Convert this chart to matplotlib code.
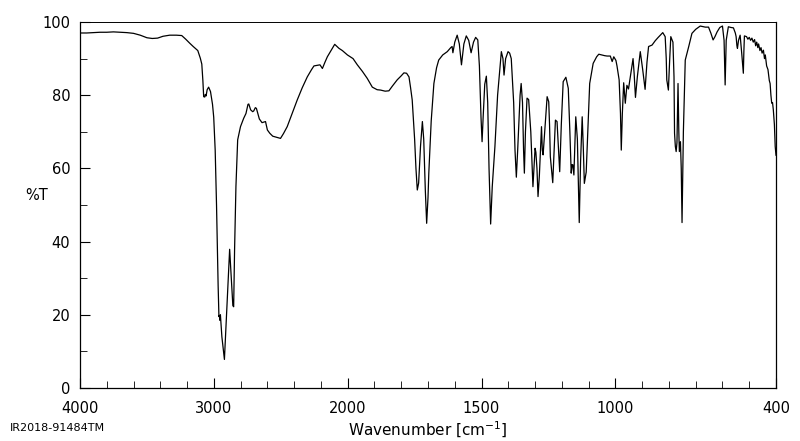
import numpy as np
import matplotlib
matplotlib.use('Agg')
import matplotlib.pyplot as plt


# wavenumber [cm-1] and transmittance [%T]
wavenumber = [
    4000, 3950, 3900, 3850, 3800, 3750, 3700, 3650, 3600, 3550,
    3500, 3460, 3420, 3380, 3330, 3280, 3240, 3210, 3180, 3154,
    3120, 3101, 3090, 3082, 3076, 3068, 3064, 3058, 3050, 3039,
    3025, 3010, 3001, 2990, 2980, 2976, 2968, 2962, 2958, 2955,
    2951, 2940, 2921, 2905, 2890, 2882, 2870, 2858, 2852, 2845,
    2835, 2822, 2801, 2777, 2760, 2745, 2739, 2725, 2710, 2702,
    2690, 2682, 2660, 2640, 2614, 2600, 2582, 2560, 2530, 2502,
    2480, 2452, 2420, 2377, 2340, 2302, 2270, 2252, 2207, 2189,
    2170, 2152, 2120, 2097, 2085, 2065, 2040, 2002, 1980, 1964,
    1945, 1927, 1908, 1890, 1877, 1860, 1846, 1833, 1815, 1800,
    1790, 1780, 1771, 1765, 1759, 1750, 1745, 1740, 1735, 1728,
    1721, 1716, 1710, 1705, 1700, 1697, 1688, 1678, 1668, 1660,
    1645, 1628, 1615, 1610, 1607, 1600, 1591, 1583, 1575, 1566,
    1557, 1548, 1539, 1530, 1522, 1514, 1508, 1502, 1498, 1494,
    1488, 1482, 1477, 1472, 1466, 1460, 1450, 1440, 1426, 1420,
    1416, 1410, 1401, 1395, 1389, 1380, 1375, 1370, 1365, 1356,
    1352, 1347, 1343, 1340, 1336, 1330, 1324, 1316, 1308, 1304,
    1300, 1297, 1293, 1289, 1284, 1276, 1273, 1270, 1262, 1255,
    1249, 1246, 1243, 1234, 1228, 1224, 1218, 1213, 1208, 1202,
    1195, 1185, 1176, 1170, 1165, 1162, 1159, 1155, 1148, 1142,
    1135, 1130, 1124, 1120, 1116, 1109, 1102, 1096, 1083, 1070,
    1062, 1040, 1031, 1019, 1012, 1006, 998, 994, 986, 981,
    978, 974, 969, 963, 957, 951, 942, 934, 930, 925,
    918, 907, 898, 889, 882, 876, 863, 851, 840, 823,
    814, 810, 808, 802, 797, 793, 785, 781, 779, 776,
    773, 770, 766, 763, 761, 757, 754, 751, 746, 739,
    726, 714, 700, 683, 664, 652, 643, 635, 628, 620,
    610, 600, 594, 590, 586, 578, 568, 559, 552, 549,
    546, 544, 540, 534, 531, 528, 524, 522, 520, 518,
    510, 505, 500, 495, 490, 485, 480, 476, 472, 468,
    465, 460, 456, 452, 447, 443, 440, 435, 430, 425,
    422, 419, 416, 413, 410, 406, 403, 400,
]
transmittance = [
    97.0, 97.0, 97.1, 97.2, 97.2, 97.3, 97.2, 97.1, 96.9, 96.4,
    95.7, 95.5, 95.6, 96.1, 96.4, 96.4, 96.3, 95.3, 94.2, 93.3,
    92.2, 90.1, 88.5, 84.0, 79.6, 79.5, 80.2, 79.8, 81.5, 82.2,
    81.0, 77.5, 74.0, 65.0, 50.0, 42.3, 28.0, 19.5, 19.8, 18.5,
    20.0, 14.0, 7.8, 20.0, 32.0, 37.9, 30.0, 22.5, 22.2, 38.0,
    55.0, 67.8, 71.4, 73.7, 75.0, 77.5, 77.6, 76.0, 75.5, 75.7,
    76.6, 76.4, 73.5, 72.5, 72.8, 70.5, 69.6, 68.8, 68.5, 68.2,
    69.5, 71.4, 74.5, 78.7, 82.0, 85.0, 87.0, 88.0, 88.3, 87.3,
    89.0, 90.5, 92.5, 93.9, 93.5, 92.8, 92.2, 91.0, 90.0, 88.3,
    86.5, 84.6, 82.2, 81.5, 81.4, 81.1, 81.2, 82.5, 84.2, 85.3,
    86.1, 86.0, 85.0, 82.0, 78.7, 68.0, 60.0, 54.1, 56.0, 66.0,
    72.8, 68.0, 54.0, 45.0, 52.0, 58.7, 73.0, 83.2, 87.5, 89.6,
    91.0, 91.9, 93.0, 93.3, 91.6, 94.5, 96.4, 94.0, 88.3, 94.0,
    96.2, 95.0, 91.6, 94.5, 95.8, 95.1, 88.0, 74.0, 67.3, 74.0,
    83.0, 85.2, 78.0, 60.0, 44.8, 55.0, 66.0, 80.0, 91.9, 90.0,
    85.5, 90.0, 91.9, 91.5, 90.0, 78.0, 65.0, 57.6, 65.0, 80.0,
    83.2, 78.0, 65.0, 58.7, 70.0, 79.2, 78.8, 70.0, 55.0, 60.0,
    65.5, 64.4, 60.0, 52.3, 58.0, 71.4, 65.0, 63.7, 72.0, 79.6,
    78.2, 72.0, 63.2, 56.1, 66.0, 73.2, 72.8, 66.0, 59.1, 72.0,
    83.7, 84.9, 81.9, 70.0, 58.7, 61.0, 61.0, 58.2, 74.1, 68.0,
    45.2, 62.0, 74.1, 66.0, 55.9, 59.0, 72.0, 83.2, 88.7, 90.5,
    91.2, 90.8, 90.7, 90.7, 89.2, 90.5, 89.5, 88.0, 84.2, 75.0,
    65.0, 75.0, 83.4, 77.8, 82.7, 81.7, 86.0, 90.0, 86.0, 79.4,
    85.0, 91.9, 87.0, 81.6, 89.0, 93.3, 93.7, 94.9, 95.8, 97.1,
    96.0, 90.0, 84.2, 81.4, 90.0, 96.0, 94.5, 85.0, 69.6, 66.0,
    64.6, 67.0, 83.2, 70.0, 64.6, 67.3, 60.0, 45.2, 70.0, 89.6,
    93.3, 96.9, 98.0, 98.9, 98.6, 98.6, 96.9, 95.1, 96.0, 97.3,
    98.5, 98.9, 95.0, 82.8, 95.0, 98.7, 98.5, 98.4, 97.0, 96.0,
    93.5, 92.8, 95.0, 96.4, 94.0, 91.4, 88.0, 86.0, 92.0, 96.2,
    96.0, 95.3, 95.8, 95.0, 95.6, 94.5, 95.2, 93.5, 94.5, 93.0,
    94.0, 92.2, 93.0, 91.5, 92.3, 90.0, 91.0, 88.0, 87.0, 84.0,
    83.2, 80.0, 77.8, 78.0, 76.0, 72.0, 66.0, 63.6,
]

major_ticks = [4000, 3000, 2000, 1500, 1000, 400]
minor_ticks = [3800, 3600, 3400, 3200, 2800, 2600, 2400, 2200,
               1900, 1800, 1700, 1600, 1400, 1300, 1200, 1100,
               900, 800, 700, 600, 500]


# above 2000 cm-1 the axis is compressed by a factor of two
def forward(w):
    w = np.asarray(w, dtype=float)
    return np.where(w <= 2000, w, 2000 + (w - 2000) * 0.5)


def inverse(u):
    u = np.asarray(u, dtype=float)
    return np.where(u <= 2000, u, 2000 + (u - 2000) * 2.0)


fig = plt.figure(figsize=(8, 4.41), dpi=100)
ax = fig.add_axes([0.1, 0.1202, 0.87, 0.8299])

ax.plot(wavenumber, transmittance, color='black', lw=0.9)

ax.set_xscale('function', functions=(forward, inverse))
ax.set_xlim(4000, 400)
ax.set_ylim(0, 100)

ax.set_xticks(major_ticks, [str(t) for t in major_ticks])
ax.set_xticks(minor_ticks, minor=True)
ax.set_yticks([0, 20, 40, 60, 80, 100])
ax.set_yticks([10, 30, 50, 70, 90], minor=True)

ax.tick_params(axis='both', which='both', direction='in', labelsize=10.5,
               top=False, right=False)
ax.tick_params(axis='x', which='major', length=7, pad=9.5)
ax.tick_params(axis='y', which='major', length=7, pad=7)
ax.tick_params(axis='both', which='minor', length=5)

for side in ['left', 'bottom', 'right']:
    ax.spines[side].set_linewidth(0.9)
ax.spines['top'].set_linewidth(0.7)

ax.set_xlabel('Wavenumber [cm$^{-1}$]', fontsize=11, labelpad=3)
ax.set_ylabel('%T', rotation=0, fontsize=10.5, ha='center', va='center')
ax.yaxis.set_label_coords(-0.062, 0.525)

fig.text(10 / 800, 1 - 428 / 441, 'IR2018-91484TM', fontsize=8, va='center')

plt.savefig('out.png', dpi=100)
